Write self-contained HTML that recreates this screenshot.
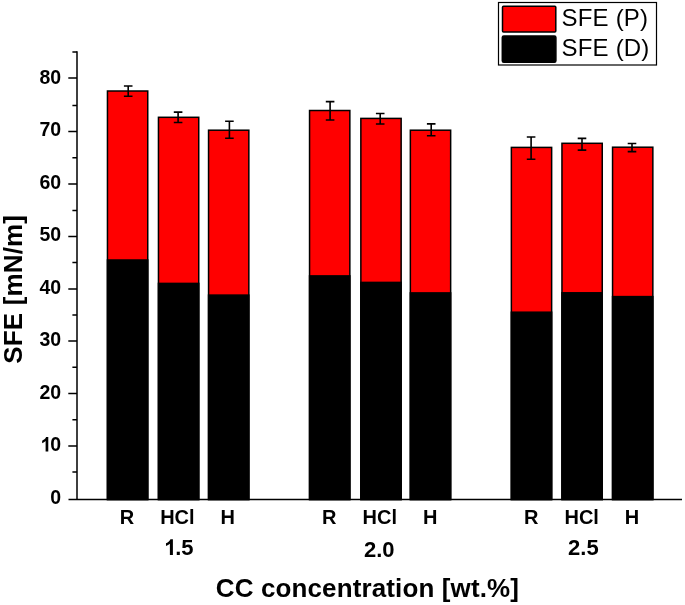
<!DOCTYPE html>
<html><head><meta charset="utf-8"><style>
html,body{margin:0;padding:0;background:#fff;}
body{width:685px;height:605px;overflow:hidden;}
svg{display:block;will-change:transform;}
text{font-family:"Liberation Sans",sans-serif;fill:#000;}
</style></head><body>
<svg width="685" height="605" viewBox="0 0 685 605">
<rect x="107.45" y="91.00" width="40.30" height="408.50" fill="#f00" stroke="#000" stroke-width="1.5"/>
<rect x="107.45" y="260.00" width="40.30" height="239.50" fill="#000" stroke="#000" stroke-width="1.5"/>
<rect x="158.45" y="117.30" width="40.30" height="382.20" fill="#f00" stroke="#000" stroke-width="1.5"/>
<rect x="158.45" y="283.40" width="40.30" height="216.10" fill="#000" stroke="#000" stroke-width="1.5"/>
<rect x="208.55" y="130.20" width="40.30" height="369.30" fill="#f00" stroke="#000" stroke-width="1.5"/>
<rect x="208.55" y="295.10" width="40.30" height="204.40" fill="#000" stroke="#000" stroke-width="1.5"/>
<rect x="309.55" y="110.50" width="40.30" height="389.00" fill="#f00" stroke="#000" stroke-width="1.5"/>
<rect x="309.55" y="275.90" width="40.30" height="223.60" fill="#000" stroke="#000" stroke-width="1.5"/>
<rect x="360.85" y="118.40" width="40.30" height="381.10" fill="#f00" stroke="#000" stroke-width="1.5"/>
<rect x="360.85" y="282.40" width="40.30" height="217.10" fill="#000" stroke="#000" stroke-width="1.5"/>
<rect x="410.35" y="130.20" width="40.30" height="369.30" fill="#f00" stroke="#000" stroke-width="1.5"/>
<rect x="410.35" y="292.90" width="40.30" height="206.60" fill="#000" stroke="#000" stroke-width="1.5"/>
<rect x="511.35" y="147.40" width="40.30" height="352.10" fill="#f00" stroke="#000" stroke-width="1.5"/>
<rect x="511.35" y="312.20" width="40.30" height="187.30" fill="#000" stroke="#000" stroke-width="1.5"/>
<rect x="561.95" y="143.30" width="40.30" height="356.20" fill="#f00" stroke="#000" stroke-width="1.5"/>
<rect x="561.95" y="292.80" width="40.30" height="206.70" fill="#000" stroke="#000" stroke-width="1.5"/>
<rect x="612.55" y="147.20" width="40.30" height="352.30" fill="#f00" stroke="#000" stroke-width="1.5"/>
<rect x="612.55" y="296.60" width="40.30" height="202.90" fill="#000" stroke="#000" stroke-width="1.5"/>
<path d="M123.90 86.00H132.50M128.20 86.00V96.30M123.90 96.30H132.50M173.80 112.10H182.40M178.10 112.10V122.50M173.80 122.50H182.40M225.10 121.20H233.70M229.40 121.20V138.30M225.10 138.30H233.70M325.80 101.60H334.40M330.10 101.60V120.00M325.80 120.00H334.40M375.90 113.50H384.50M380.20 113.50V124.00M375.90 124.00H384.50M426.90 123.90H435.50M431.20 123.90V135.70M426.90 135.70H435.50M526.80 137.00H535.40M531.10 137.00V159.20M526.80 159.20H535.40M577.70 138.40H586.30M582.00 138.40V150.10M577.70 150.10H586.30M627.70 143.50H636.30M632.00 143.50V151.60M627.70 151.60H636.30" stroke="#000" stroke-width="1.6" fill="none"/>
<path d="M77.0 51.2V499.5M68.50 499.5H682" stroke="#000" stroke-width="1.5" fill="none"/>
<path d="M72.40 51.90H77.0M68.30 78.00H77.0M72.40 105.40H77.0M68.30 131.50H77.0M72.40 157.70H77.0M68.30 184.00H77.0M72.40 210.40H77.0M68.30 236.40H77.0M72.40 262.60H77.0M68.30 289.00H77.0M72.40 315.00H77.0M68.30 340.90H77.0M72.40 367.20H77.0M68.30 393.60H77.0M72.40 419.80H77.0M68.30 445.90H77.0M72.40 472.10H77.0" stroke="#000" stroke-width="1.5" fill="none"/>
<text transform="translate(61.20 504.00) scale(1 1.03)" text-anchor="end" style="font-size:19.5px;font-weight:bold">0</text>
<path transform="translate(39.52 451.49) scale(0.00952 -0.00981)" d="M640 0H921V1466H693Q645 1337 516 1237Q387 1137 277 1101V846Q486 915 640 1059Z"/>
<text transform="translate(61.20 451.49) scale(1 1.03)" text-anchor="end" style="font-size:19.5px;font-weight:bold">0</text>
<text transform="translate(61.20 398.97) scale(1 1.03)" text-anchor="end" style="font-size:19.5px;font-weight:bold">20</text>
<text transform="translate(61.20 346.46) scale(1 1.03)" text-anchor="end" style="font-size:19.5px;font-weight:bold">30</text>
<text transform="translate(61.20 293.94) scale(1 1.03)" text-anchor="end" style="font-size:19.5px;font-weight:bold">40</text>
<text transform="translate(61.20 241.43) scale(1 1.03)" text-anchor="end" style="font-size:19.5px;font-weight:bold">50</text>
<text transform="translate(61.20 188.92) scale(1 1.03)" text-anchor="end" style="font-size:19.5px;font-weight:bold">60</text>
<text transform="translate(61.20 136.40) scale(1 1.03)" text-anchor="end" style="font-size:19.5px;font-weight:bold">70</text>
<text transform="translate(61.20 83.89) scale(1 1.03)" text-anchor="end" style="font-size:19.5px;font-weight:bold">80</text>
<text transform="translate(127.00 523.60) scale(1 1.02)" text-anchor="middle" style="font-size:20px;font-weight:bold">R</text>
<text transform="translate(177.40 523.60) scale(1 1.02)" text-anchor="middle" style="font-size:20px;font-weight:bold">HCl</text>
<text transform="translate(227.60 523.60) scale(1 1.02)" text-anchor="middle" style="font-size:20px;font-weight:bold">H</text>
<text transform="translate(329.10 523.60) scale(1 1.02)" text-anchor="middle" style="font-size:20px;font-weight:bold">R</text>
<text transform="translate(379.80 523.60) scale(1 1.02)" text-anchor="middle" style="font-size:20px;font-weight:bold">HCl</text>
<text transform="translate(430.10 523.60) scale(1 1.02)" text-anchor="middle" style="font-size:20px;font-weight:bold">H</text>
<text transform="translate(531.10 523.60) scale(1 1.02)" text-anchor="middle" style="font-size:20px;font-weight:bold">R</text>
<text transform="translate(581.70 523.60) scale(1 1.02)" text-anchor="middle" style="font-size:20px;font-weight:bold">HCl</text>
<text transform="translate(631.90 523.60) scale(1 1.02)" text-anchor="middle" style="font-size:20px;font-weight:bold">H</text>
<path transform="translate(163.01 555.00) scale(0.01074 -0.01074)" d="M640 0H921V1466H693Q645 1337 516 1237Q387 1137 277 1101V846Q486 915 640 1059Z"/>
<text transform="translate(175.24 555.00)" style="font-size:22px;font-weight:bold">.5</text>
<text transform="translate(379.20 557.40)" text-anchor="middle" style="font-size:22px;font-weight:bold">2.0</text>
<text transform="translate(583.40 555.10)" text-anchor="middle" style="font-size:22px;font-weight:bold">2.5</text>
<text transform="translate(367.40 596.50) scale(1 1.015)" text-anchor="middle" style="font-size:26px;font-weight:bold;letter-spacing:0.13px">CC concentration [wt.%]</text>
<text transform="translate(21.50 289.30) rotate(-90) scale(1 1.015)" text-anchor="middle" style="font-size:26px;font-weight:bold;letter-spacing:0.15px">SFE [mN/m]</text>
<rect x="498.5" y="2.5" width="158" height="62.5" fill="#fff" stroke="#000" stroke-width="1.2"/>
<rect x="502.5" y="6.3" width="53.3" height="25.6" rx="1" fill="#f00" stroke="#000" stroke-width="1.5"/>
<rect x="502.3" y="36" width="53.6" height="26.2" rx="1.5" fill="#000" stroke="#000" stroke-width="1.5"/>
<text transform="translate(561.50 26.00)" style="font-size:24px;letter-spacing:0.2px">SFE (P)</text>
<text transform="translate(561.50 56.10)" style="font-size:24px;letter-spacing:0.2px">SFE (D)</text>
</svg>
</body></html>
